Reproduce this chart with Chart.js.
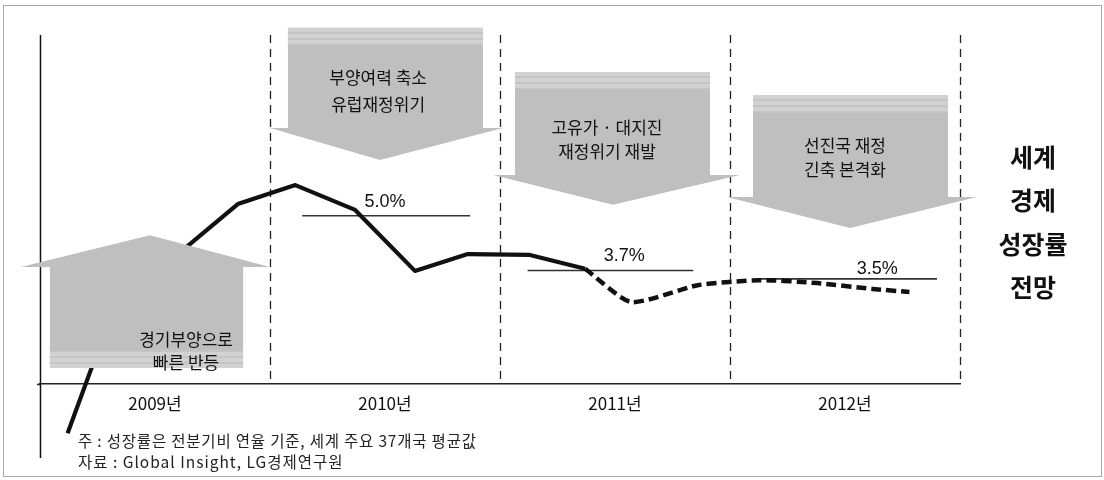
<!DOCTYPE html>
<html>
<head>
<meta charset="utf-8">
<script src="https://cdn.jsdelivr.net/npm/chart.js@4.4.1/dist/chart.umd.min.js"></script>
<style>
  html, body { margin: 0; padding: 0; background: #ffffff; }
  #wrap { width: 1104px; height: 480px; position: relative; }
</style>
</head>
<body>
<div id="wrap"><canvas id="c" width="1104" height="480"></canvas></div>
<script>
// ---- data ----
const years = [2009, 2010, 2011, 2012];
const yearLabels = ['2009년', '2010년', '2011년', '2012년'];

// actual growth (solid) — x in fractional years, y in %
const actualX = [2009.12, 2009.32, 2009.86, 2010.11, 2010.37, 2010.63, 2010.86, 2011.13, 2011.37];
const actualY = [-0.17, 2.81, 5.28, 5.73, 5.14, 3.69, 4.09, 4.07, 3.74];

// forecast (dashed)
const forecastX = [2011.37, 2011.57, 2011.86, 2012.13, 2012.38, 2012.62, 2012.78];
const forecastY = [3.74, 2.95, 3.35, 3.47, 3.40, 3.26, 3.19];

// annual averages
const annualValues = [5.0, 3.7, 3.5];
const annualLabels = ['5.0%', '3.7%', '3.5%'];
const annualStart = [2010.14, 2011.12, 2012.12];
const annualEnd = [2010.87, 2011.84, 2012.90];
const annualLabelX = [2010.50, 2011.54, 2012.64];

// arrow captions
const arrowTexts = [
  ['경기부양으로', '빠른 반등'],
  ['부양여력 축소', '유럽재정위기'],
  ['고유가 · 대지진', '재정위기 재발'],
  ['선진국 재정', '긴축 본격화']
];
const titleLines = ['세계', '경제', '성장률', '전망'];
const notes = ['주 : 성장률은 전분기비 연율 기준, 세계 주요 37개국 평균값', '자료 : Global Insight, LG경제연구원'];

// ---- build ----
const KR = "'Noto Sans CJK KR', 'Noto Sans', sans-serif";
const toPts = (xs, ys) => xs.map((x, i) => ({ x: x, y: ys[i] }));

const datasets = [
  {
    data: toPts(actualX, actualY),
    borderColor: '#111', borderWidth: 4.2, pointRadius: 0, tension: 0, clip: false,
    borderJoinStyle: 'round'
  },
  {
    data: toPts(forecastX, forecastY),
    borderColor: '#111', borderWidth: 4.5, pointRadius: 0, tension: 0.2, clip: false,
    borderDash: [10, 5]
  }
];
annualValues.forEach((v, i) => {
  datasets.push({
    data: [{ x: annualStart[i], y: v }, { x: annualEnd[i], y: v }],
    borderColor: '#333', borderWidth: 1.6, pointRadius: 0, clip: false
  });
});

const arrowShapes = [
  { dir: 'up',   x0: 2009.043, x1: 2009.883, wx0: 2008.917, wx1: 2010.0,   yEnd: 1.38, yWing: 3.78, tipX: 2009.478, yTip: 4.54, tx: 2009.635, ty: [2.05, 1.50] },
  { dir: 'down', x0: 2010.078, x1: 2010.926, wx0: 2010.0,   wx1: 2011.013, yEnd: 9.47, yWing: 7.09, tipX: 2010.478, yTip: 6.33, tx: 2010.47,  ty: [8.30, 7.64] },
  { dir: 'down', x0: 2011.065, x1: 2011.913, wx0: 2010.97,  wx1: 2012.043, yEnd: 8.42, yWing: 5.97, tipX: 2011.491, yTip: 5.26, tx: 2011.465, ty: [7.11, 6.52] },
  { dir: 'down', x0: 2012.1,   x1: 2012.948, wx0: 2011.987, wx1: 2013.074, yEnd: 7.87, yWing: 5.45, tipX: 2012.522, yTip: 4.71, tx: 2012.5,   ty: [6.68, 6.09] }
];

const deco = {
  id: 'deco',
  beforeDatasetsDraw(chart) {
    const ctx = chart.ctx, a = chart.chartArea, xs = chart.scales.x;
    ctx.save();
    // frame
    ctx.strokeStyle = '#a8a8a8'; ctx.lineWidth = 1;
    ctx.strokeRect(3.5, 5.5, 1098, 471);
    // y axis line (extends below x axis)
    ctx.strokeStyle = '#111'; ctx.lineWidth = 1.5;
    ctx.beginPath(); ctx.moveTo(a.left + 0.5, a.top); ctx.lineTo(a.left + 0.5, a.bottom + 74); ctx.stroke();
    // small left overhang of x axis
    ctx.strokeStyle = '#222';
    ctx.beginPath(); ctx.moveTo(a.left - 3, a.bottom + 0.5); ctx.lineTo(a.left, a.bottom + 0.5); ctx.stroke();
    // year separators
    ctx.strokeStyle = '#222'; ctx.lineWidth = 1.3; ctx.setLineDash([8, 6]);
    years.forEach(y => {
      const px = Math.round(xs.getPixelForValue(y + 1)) + 0.5;
      ctx.beginPath(); ctx.moveTo(px, a.top); ctx.lineTo(px, a.bottom - 3); ctx.stroke();
    });
    ctx.setLineDash([]);
    ctx.restore();
  },
  afterDatasetsDraw(chart) {
    const ctx = chart.ctx, a = chart.chartArea, xs = chart.scales.x, ys = chart.scales.y;
    const X = v => xs.getPixelForValue(v), Y = v => ys.getPixelForValue(v);
    ctx.save();
    // arrows
    arrowShapes.forEach((s, i) => {
      const bx0 = X(s.x0), bx1 = X(s.x1), wx0 = X(s.wx0), wx1 = X(s.wx1);
      const yE = Y(s.yEnd), yW = Y(s.yWing), tx = X(s.tipX), yT = Y(s.yTip);
      ctx.fillStyle = '#bfbfbf';
      ctx.beginPath();
      ctx.moveTo(bx0, yE); ctx.lineTo(bx1, yE); ctx.lineTo(bx1, yW); ctx.lineTo(wx1, yW);
      ctx.lineTo(tx, yT); ctx.lineTo(wx0, yW); ctx.lineTo(bx0, yW); ctx.closePath();
      ctx.fill();
      // lighter tail band
      const bandH = 17;
      ctx.fillStyle = '#d2d2d2';
      if (s.dir === 'down') ctx.fillRect(bx0, yE, bx1 - bx0, bandH);
      else ctx.fillRect(bx0, yE - bandH, bx1 - bx0, bandH);
      ctx.fillStyle = '#c4c4c4';
      for (let k = 4; k < bandH; k += 6) {
        const yy = s.dir === 'down' ? yE + k : yE - k - 2;
        ctx.fillRect(bx0, yy, bx1 - bx0, 2);
      }
      // captions
      ctx.fillStyle = '#111';
      ctx.font = '17px ' + KR;
      ctx.textAlign = 'center'; ctx.textBaseline = 'middle';
      arrowTexts[i].forEach((t, j) => ctx.fillText(t, X(s.tx), Y(s.ty[j])));
    });
    // annual labels
    ctx.fillStyle = '#111';
    ctx.font = '18px "Liberation Sans", Arial, sans-serif';
    ctx.textAlign = 'center'; ctx.textBaseline = 'alphabetic';
    annualValues.forEach((v, i) => {
      const off = i === 2 ? 5 : 9;
      ctx.fillText(annualLabels[i], X(annualLabelX[i]), Y(v) - off);
    });
    // right title
    ctx.font = 'bold 25px ' + KR;
    ctx.textBaseline = 'middle';
    titleLines.forEach((t, j) => ctx.fillText(t, a.right + 73, a.top + 122 + j * 43.5));
    // notes
    ctx.font = '15.5px ' + KR;
    ctx.textAlign = 'left';
    ctx.fillStyle = '#222';
    const spacing = ['0.8px', '1px'];
    notes.forEach((t, j) => {
      ctx.letterSpacing = spacing[j];
      ctx.fillText(t, a.left + 38, a.bottom + 57 + j * 21);
    });
    ctx.letterSpacing = '0px';
    ctx.restore();
  }
};

new Chart(document.getElementById('c'), {
  type: 'line',
  data: { datasets: datasets },
  options: {
    responsive: false,
    animation: false,
    events: [],
    layout: { padding: { left: 40, right: 144, top: 35, bottom: 66 } },
    plugins: { legend: { display: false }, tooltip: { enabled: false } },
    scales: {
      x: {
        type: 'linear', min: 2009, max: 2013,
        grid: { display: false, drawTicks: false },
        border: { display: true, color: '#222', width: 1.5 },
        afterBuildTicks: s => { s.ticks = years.map(y => ({ value: y + 0.5 })); },
        afterFit: s => { s.height = 30; },
        ticks: {
          padding: 9, color: '#111', font: { family: KR, size: 17 },
          autoSkip: false, maxRotation: 0,
          callback: v => yearLabels[years.indexOf(Math.floor(v))]
        }
      },
      y: {
        type: 'linear', min: 1.0, max: 9.3, display: false
      }
    }
  },
  plugins: [deco]
});
</script>
</body>
</html>
